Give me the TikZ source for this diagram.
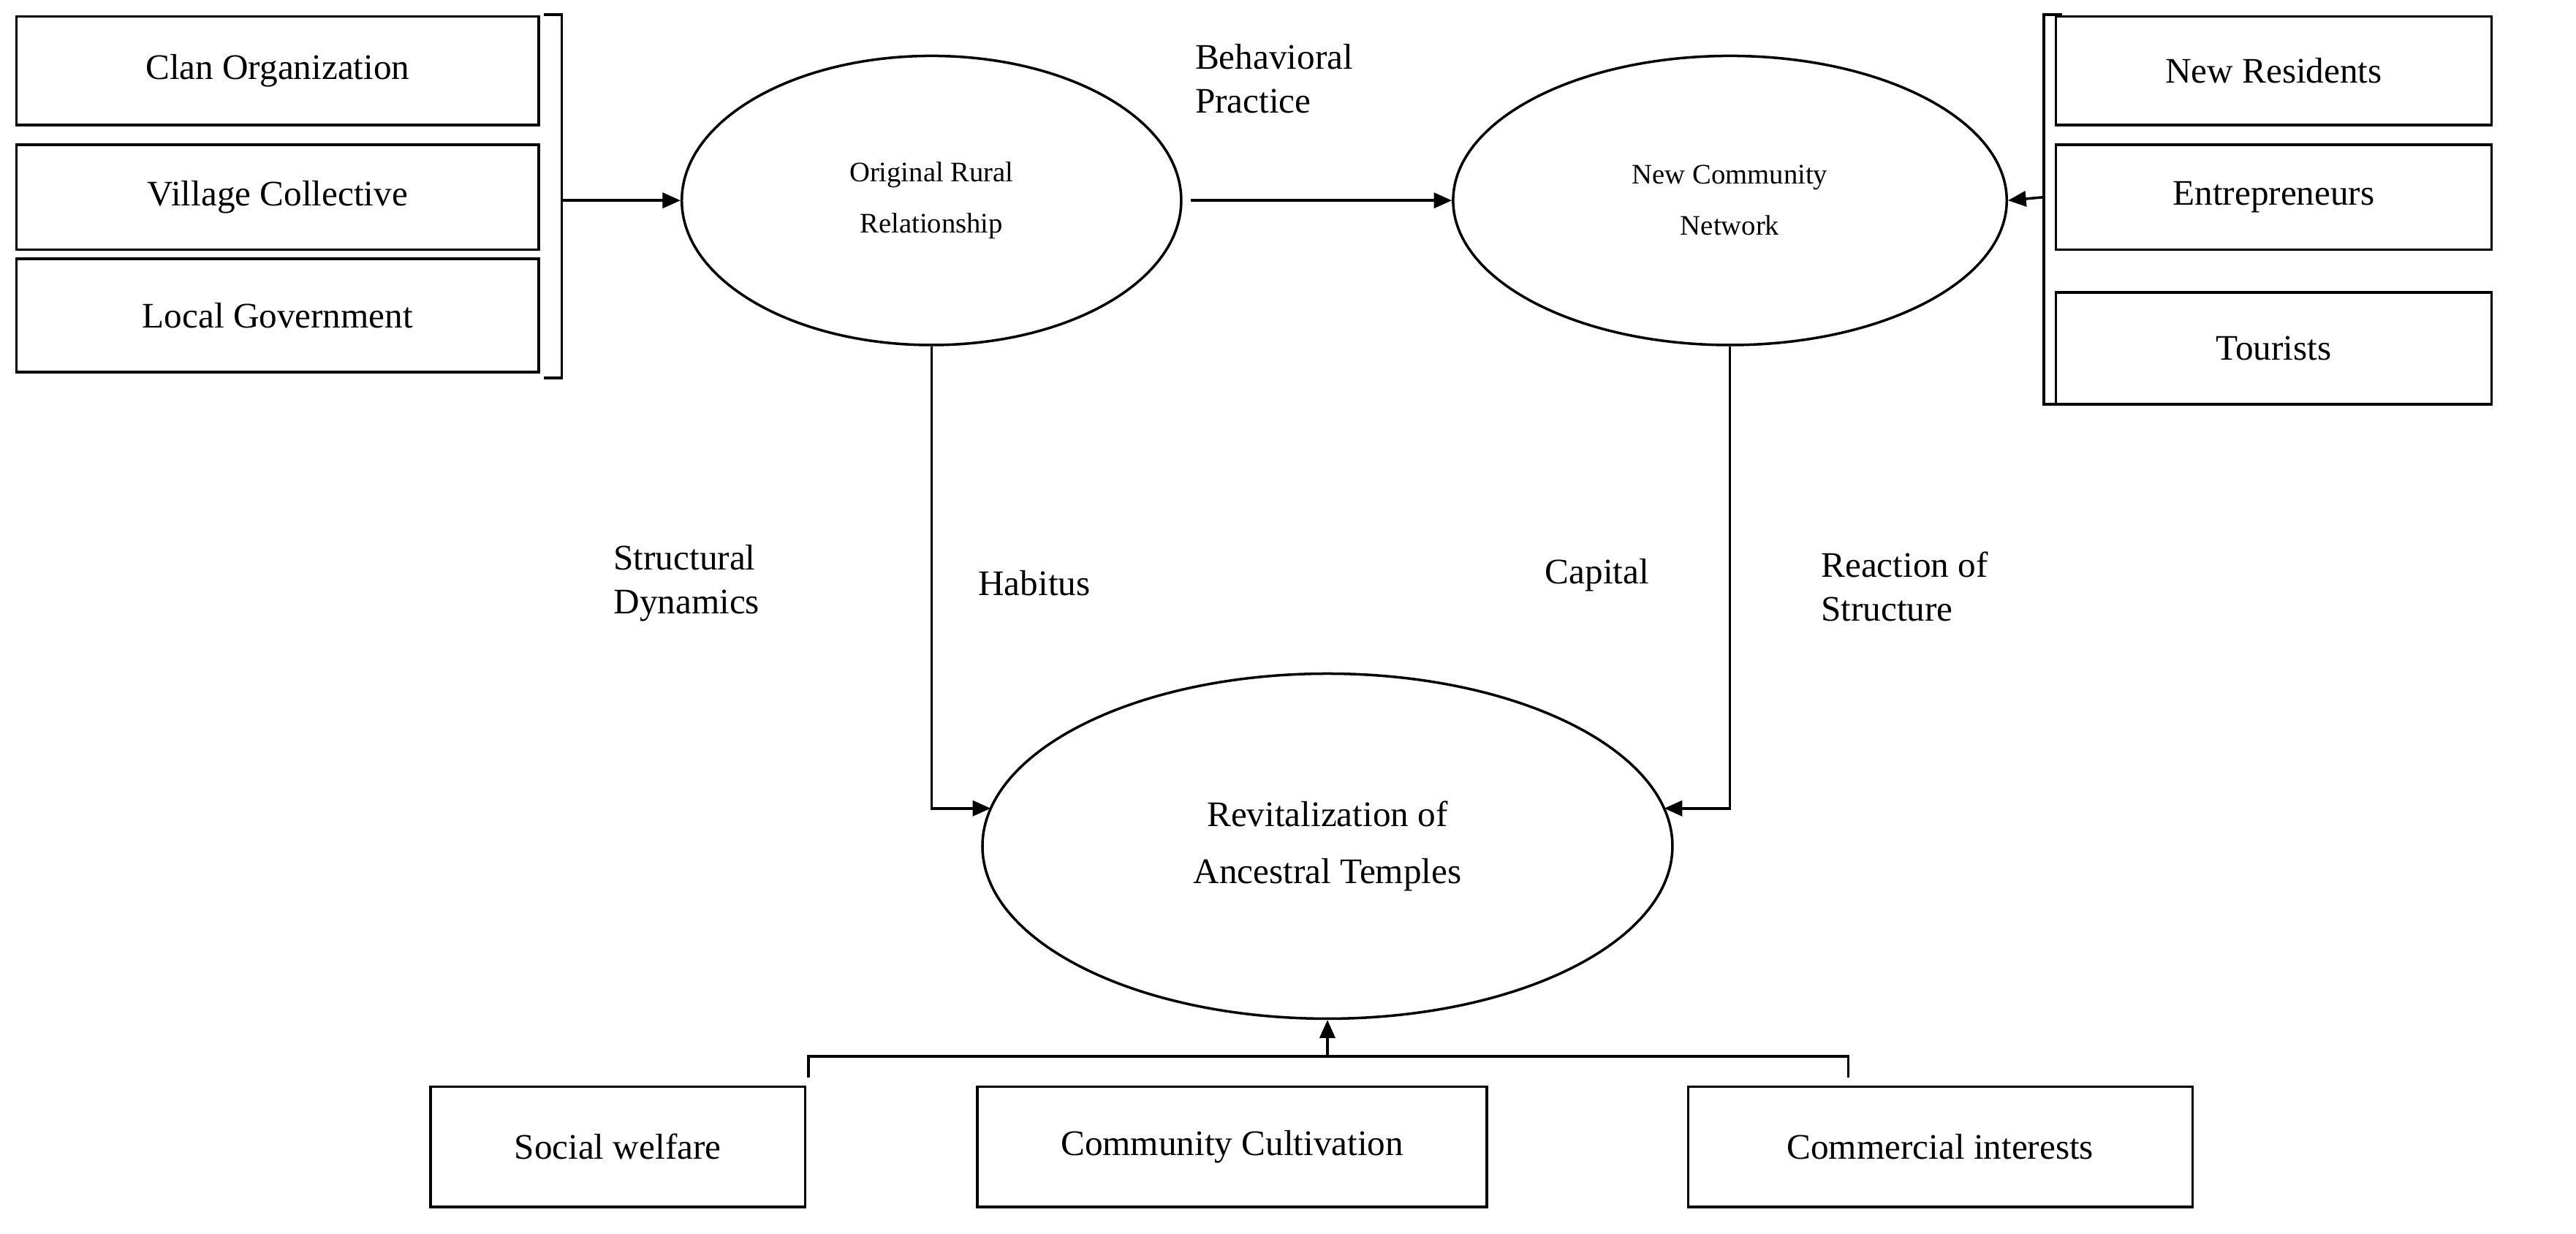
\documentclass[tikz,border=0pt]{standalone}
\usepackage{fontspec}
\setmainfont{Liberation Serif}
\usetikzlibrary{shapes.geometric,arrows.meta}
\begin{document}
\begin{tikzpicture}[x=0.02247cm,y=-0.02247cm,
 box/.style={draw,line width=1pt,minimum width=#1*0.02247cm,minimum height=66*0.02247cm,font=\fontsize{14}{16}\selectfont,inner sep=0},
 ell/.style={draw,ellipse,line width=1pt,inner sep=0},
 lab/.style={font=\fontsize{14}{17}\selectfont,align=left,anchor=west},
 arr/.style={line width=1pt,-{Triangle[length=7pt,width=6pt]}},
 br/.style={line width=1pt}]
\useasboundingbox (0,0) rectangle (1568,751);
% left boxes
\node[box=318] (clan) at (169,43) {Clan Organization};
\node[box=318,minimum height=64*0.02247cm] (vil) at (169,120) {Village Collective};
\node[box=318,minimum height=69*0.02247cm] (gov) at (169,192) {Local Government};
\coordinate (lb) at (342,122);
\draw[br] (331,9) -- (342,9) -- (342,230) -- (331,230);
% right boxes
\node[box=265] (res) at (1384,43) {New Residents};
\node[box=265,minimum height=64*0.02247cm] (ent) at (1384,120) {Entrepreneurs};
\node[box=265,minimum height=68*0.02247cm] (tou) at (1384,212) {Tourists};
\coordinate (rb) at (1244,120);
\draw[br] (1255,9) -- (1244,9) -- (1244,246) -- (1255,246);
% ellipses
\node[ell,minimum width=304*0.02247cm,minimum height=176*0.02247cm,font=\fontsize{11}{20}\selectfont,align=center] (orr) at (567,122) {Original Rural\\Relationship};
\node[ell,minimum width=337*0.02247cm,minimum height=176*0.02247cm,font=\fontsize{11}{20}\selectfont,align=center] (ncn) at (1053,122) {New Community\\Network};
\node[ell,minimum width=420*0.02247cm,minimum height=210*0.02247cm,font=\fontsize{14}{22}\selectfont,align=center] (rev) at (808,515) {Revitalization of\\Ancestral Temples};
\coordinate (revl) at (603,492);
\coordinate (revr) at (1013,492);
% bottom boxes
\node[box=228,minimum height=73*0.02247cm] (soc) at (376,698) {Social welfare};
\node[box=310,minimum height=73*0.02247cm] (com) at (750,698) {Community Cultivation};
\node[box=307,minimum height=73*0.02247cm] (cmi) at (1181,698) {Commercial interests};
\coordinate (bb) at (808,643);
\draw[br] (492,656) -- (492,643) -- (1125,643) -- (1125,656);
% connectors
\draw[arr] (lb) -- (orr.west);
\draw[arr] (rb) -- (ncn.east);
\draw[arr] (725,122) -- (ncn.west);
\draw[arr] (orr.south) |- (revl);
\draw[arr] (ncn.south) |- (revr);
\draw[arr] (bb) -- (rev.south);
% labels
\node[lab] at (722,48) {Behavioral\\Practice};
\node[lab] at (368,355) {Structural\\Dynamics};
\node[lab] at (590,355) {Habitus};
\node[lab] at (935,350) {Capital};
\node[lab] at (1103,357) {Reaction of\\Structure};
\end{tikzpicture}
\end{document}
